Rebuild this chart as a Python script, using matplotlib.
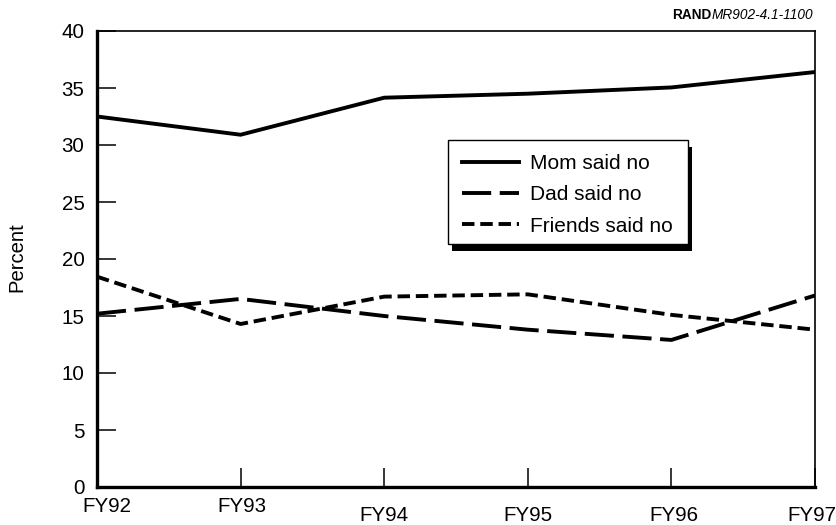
import matplotlib
matplotlib.use("Agg")
import matplotlib.pyplot as plt
import matplotlib.transforms as mtransforms
from matplotlib.patches import Rectangle

plt.rcParams['font.family'] = ['Liberation Sans', 'DejaVu Sans']

years = ["FY92", "FY93", "FY94", "FY95", "FY96", "FY97"]
mom = [32.5, 30.9, 34.15, 34.5, 35.05, 36.4]
dad = [15.2, 16.5, 15.0, 13.8, 12.9, 16.8]
friends = [18.45, 14.3, 16.7, 16.9, 15.1, 13.8]

fig = plt.figure(figsize=(8.37, 5.25), dpi=100)
ax = fig.add_axes([97 / 837, 38 / 525, 718 / 837, 456 / 525])

x = range(len(years))
lw = 2.8
ax.plot(x, mom, color='black', lw=lw, label="Mom said no")
ax.plot(x, dad, color='black', lw=lw, dashes=(7.5, 2.2), label="Dad said no")
ax.plot(x, friends, color='black', lw=lw, dashes=(3.2, 1.5), label="Friends said no")

ax.set_xlim(0, 5)
ax.set_ylim(0, 40)
ax.set_xticks(list(x))
ax.set_xticklabels(years)
ax.set_yticks(range(0, 41, 5))

ax.tick_params(axis='both', direction='in', length=13.5, width=1.1, labelsize=14.8, color='black')
ax.tick_params(axis='y', pad=9)
ax.tick_params(axis='x', pad=7)

# the scanned labels are not quite even: nudge them (pixels)
nudges = [(10, 0), (1, 0), (0, -9), (0, -9), (2, -9), (-3, -9)]
for lab, (dx, dy) in zip(ax.get_xticklabels(), nudges):
    lab.set_transform(lab.get_transform() +
                      mtransforms.ScaledTranslation(dx / 100, dy / 100, fig.dpi_scale_trans))

for side in ['left', 'bottom']:
    ax.spines[side].set_linewidth(2.4)
for side in ['top', 'right']:
    ax.spines[side].set_linewidth(1.2)

ax.set_ylabel("Percent", fontsize=14.6)
ax.yaxis.set_label_coords(-0.099, 0.504)

# legend box with drop shadow
bx0, bx1 = (448 - 97) / 718, (688 - 97) / 718
by0, by1 = (487 - 244) / 456, (487 - 140) / 456
ax.add_patch(Rectangle((bx0 + 4 / 718, by0 - 7 / 456), bx1 - bx0, by1 - by0, transform=ax.transAxes,
                       facecolor='black', edgecolor='none', zorder=4, clip_on=False))
ax.add_patch(Rectangle((bx0, by0), bx1 - bx0, by1 - by0, transform=ax.transAxes,
                       facecolor='white', edgecolor='black', lw=1.0, zorder=4.5, clip_on=False))

leg = ax.legend(loc='upper left', bbox_to_anchor=((462 - 97) / 718, (487 - 154) / 456), fontsize=15,
                handlelength=2.74, handletextpad=0.53, borderpad=0, borderaxespad=0,
                labelspacing=0.59, frameon=False)
leg.set_zorder(5)

r = fig.canvas.get_renderer()
t2 = fig.text(813 / 837, 1 - 15 / 525, "MR902-4.1-1100", fontsize=9.8, style='italic',
              ha='right', va='center')
fig.canvas.draw()
b2 = t2.get_window_extent(r)
fig.text(b2.x0 / fig.bbox.width, 1 - 15 / 525, "RAND", fontsize=9.8, fontweight='bold',
         ha='right', va='center')

fig.savefig("out.png", dpi=100)
